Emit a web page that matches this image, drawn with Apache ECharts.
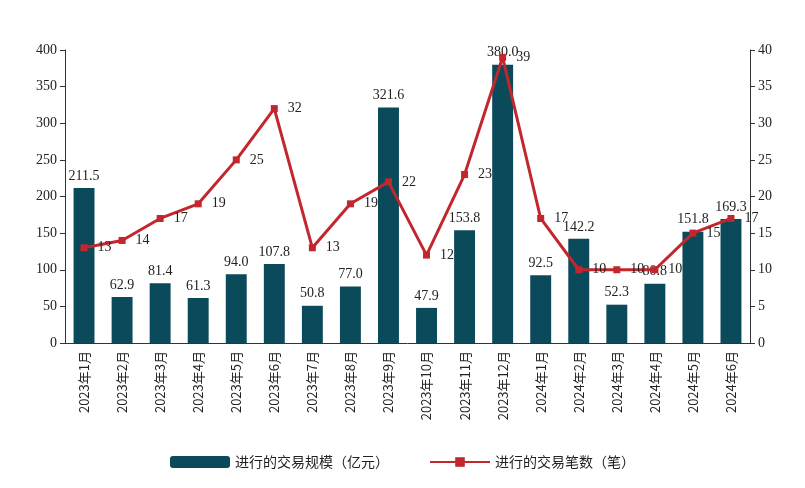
<!DOCTYPE html>
<html><head><meta charset="utf-8">
<script src="https://cdn.jsdelivr.net/npm/echarts@6/dist/echarts.min.js"></script>
<style>html,body{margin:0;background:#fff}#c{width:805px;height:488px}</style>
</head><body><div id="c"></div>
<script>
// data
var months = ['2023年1月','2023年2月','2023年3月','2023年4月','2023年5月','2023年6月','2023年7月','2023年8月','2023年9月','2023年10月','2023年11月','2023年12月','2024年1月','2024年2月','2024年3月','2024年4月','2024年5月','2024年6月'];
var scale = [211.5,62.9,81.4,61.3,94.0,107.8,50.8,77.0,321.6,47.9,153.8,380.0,92.5,142.2,52.3,80.8,151.8,169.3];
var count = [13,14,17,19,25,32,13,19,22,12,23,39,17,10,10,10,15,17];

var myChart = echarts.init(document.getElementById('c'));
var font = 'Liberation Serif';
var option = {
  textStyle: {fontFamily: font},
  grid: {left: 65, right: 55, top: 50, bottom: 145},
  legend: {
    bottom: 14, itemGap: 40, itemWidth: 60, itemHeight: 12,
    textStyle: {fontSize: 14, color: '#222', fontFamily: 'Noto Sans CJK SC'},
    data: ['进行的交易规模（亿元）', '进行的交易笔数（笔）']
  },
  xAxis: {
    type: 'category', data: months,
    axisLine: {lineStyle: {color: '#333'}},
    axisTick: {show: false},
    axisLabel: {rotate: 90, color: '#222', fontSize: 13, fontFamily: 'Noto Sans CJK SC', interval: 0}
  },
  yAxis: [{
    type: 'value', min: 0, max: 400, interval: 50,
    axisLine: {show: true, lineStyle: {color: '#333'}},
    axisTick: {show: true},
    splitLine: {show: false},
    axisLabel: {color: '#222', fontSize: 14}
  }, {
    type: 'value', min: 0, max: 40, interval: 5,
    axisLine: {show: true, lineStyle: {color: '#333'}},
    axisTick: {show: true},
    splitLine: {show: false},
    axisLabel: {color: '#222', fontSize: 14}
  }],
  series: [{
    name: '进行的交易规模（亿元）', type: 'bar', data: scale, barWidth: '55%',
    itemStyle: {color: '#0b4a5a'},
    label: {show: true, position: 'top', color: '#222', fontSize: 14, fontFamily: font,
      formatter: function (p) { return p.value.toFixed(1); }}
  }, {
    name: '进行的交易笔数（笔）', type: 'line', yAxisIndex: 1, data: count,
    symbol: 'rect', symbolSize: 7,
    lineStyle: {color: '#c1272d', width: 3},
    itemStyle: {color: '#c1272d'},
    label: {show: true, position: 'right', distance: 10, color: '#222', fontSize: 14, fontFamily: font}
  }]
};
myChart.setOption(option);
</script></body></html>
